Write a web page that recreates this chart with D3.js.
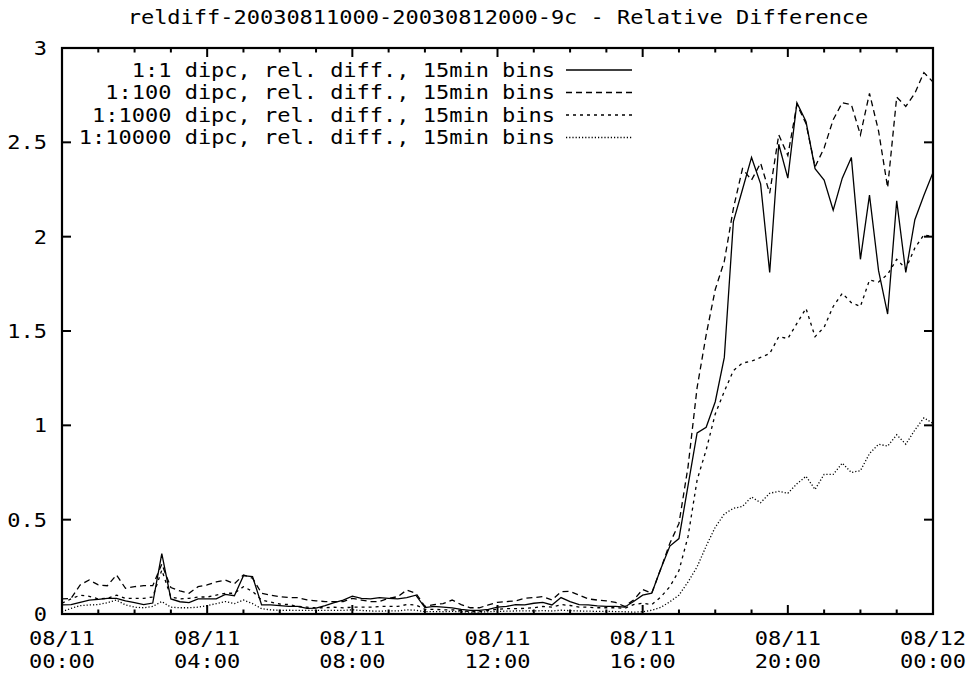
<!DOCTYPE html>
<html>
<head>
<meta charset="utf-8">
<script src="https://cdn.jsdelivr.net/npm/d3@7"></script>
<style>
  html, body { margin: 0; padding: 0; background: #fff; }
  svg text { font-family: "DejaVu Sans Mono", "Liberation Mono", monospace; fill: #000; }
</style>
</head>
<body>
<svg id="chart" width="969" height="675"></svg>
<script>
const title = "reldiff-20030811000-20030812000-9c - Relative Difference";
const seriesNames = [
  "1:1 dipc, rel. diff., 15min bins",
  "1:100 dipc, rel. diff., 15min bins",
  "1:1000 dipc, rel. diff., 15min bins",
  "1:10000 dipc, rel. diff., 15min bins"
];
// hours from 08/11 00:00, 15 min bins
const binHours = 0.25;
const xTickHours = [0, 4, 8, 12, 16, 20, 24];
const xTickLine1 = ["08/11", "08/11", "08/11", "08/11", "08/11", "08/11", "08/12"];
const xTickLine2 = ["00:00", "04:00", "08:00", "12:00", "16:00", "20:00", "00:00"];
const yTicks = [0, 0.5, 1, 1.5, 2, 2.5, 3];
const yTickLabels = ["0", "0.5", "1", "1.5", "2", "2.5", "3"];

const s1 = [0.048,0.05,0.062,0.074,0.078,0.083,0.083,0.07,0.06,0.05,
  0.058,0.32,0.08,0.065,0.06,0.08,0.08,0.08,0.104,0.097,
  0.203,0.198,0.048,0.048,0.044,0.04,0.04,0.03,0.031,0.044,
  0.06,0.074,0.095,0.083,0.08,0.087,0.083,0.08,0.087,0.1,
  0.034,0.04,0.036,0.033,0.025,0.019,0.019,0.025,0.036,0.04,
  0.05,0.048,0.057,0.062,0.048,0.087,0.066,0.05,0.048,0.043,
  0.04,0.04,0.036,0.066,0.1,0.11,0.24,0.36,0.40,0.68,
  0.96,0.99,1.125,1.36,2.08,2.25,2.42,2.28,1.81,2.49,
  2.31,2.71,2.61,2.36,2.30,2.14,2.31,2.42,1.88,2.22,
  1.82,1.59,2.19,1.81,2.09,2.22,2.34];
const s100 = [0.08,0.083,0.154,0.18,0.154,0.15,0.207,0.136,0.145,0.15,
  0.15,0.265,0.14,0.122,0.11,0.145,0.154,0.17,0.18,0.16,
  0.207,0.19,0.11,0.10,0.092,0.087,0.087,0.075,0.07,0.066,
  0.066,0.066,0.083,0.074,0.066,0.066,0.083,0.092,0.127,0.11,
  0.04,0.05,0.055,0.074,0.05,0.033,0.033,0.048,0.062,0.066,
  0.07,0.083,0.087,0.092,0.074,0.118,0.12,0.1,0.08,0.074,
  0.07,0.062,0.04,0.074,0.13,0.11,0.24,0.375,0.48,0.78,
  1.2,1.48,1.72,1.87,2.15,2.36,2.30,2.39,2.23,2.54,
  2.43,2.70,2.60,2.37,2.47,2.62,2.71,2.70,2.54,2.76,
  2.56,2.26,2.74,2.69,2.76,2.87,2.82];
const s1000 = [0.057,0.08,0.1,0.094,0.08,0.083,0.1,0.083,0.083,0.083,
  0.09,0.233,0.09,0.08,0.083,0.09,0.09,0.1,0.11,0.11,
  0.145,0.12,0.074,0.063,0.053,0.05,0.04,0.036,0.033,0.033,
  0.036,0.033,0.036,0.036,0.036,0.04,0.04,0.04,0.05,0.048,
  0.025,0.025,0.022,0.022,0.019,0.012,0.012,0.019,0.025,0.028,
  0.028,0.03,0.033,0.04,0.036,0.05,0.045,0.036,0.036,0.033,
  0.033,0.033,0.03,0.05,0.057,0.05,0.09,0.145,0.23,0.41,
  0.71,0.87,1.06,1.18,1.29,1.33,1.34,1.36,1.38,1.47,
  1.46,1.54,1.62,1.47,1.52,1.63,1.70,1.65,1.63,1.77,
  1.76,1.80,1.88,1.83,1.94,2.01,2.00];
const s10000 = [0.012,0.03,0.044,0.048,0.05,0.06,0.074,0.048,0.036,0.033,
  0.04,0.066,0.036,0.033,0.033,0.036,0.044,0.055,0.066,0.055,
  0.074,0.055,0.028,0.022,0.019,0.02,0.019,0.019,0.019,0.019,
  0.019,0.019,0.022,0.019,0.016,0.015,0.017,0.016,0.022,0.02,
  0.012,0.013,0.012,0.014,0.012,0.01,0.01,0.012,0.014,0.015,
  0.016,0.017,0.016,0.018,0.016,0.02,0.018,0.016,0.015,0.014,
  0.014,0.013,0.012,0.01,0.012,0.02,0.035,0.065,0.10,0.17,
  0.25,0.36,0.46,0.53,0.56,0.57,0.62,0.59,0.64,0.65,
  0.64,0.69,0.73,0.66,0.74,0.74,0.80,0.75,0.76,0.85,
  0.90,0.89,0.95,0.90,0.975,1.04,1.01];

const allSeries = [s1, s100, s1000, s10000];
const dashes = [null, "6,4", "3,4", "1.2,2"];

const svg = d3.select("#chart");
const pLeft = 62, pRight = 933, pTop = 48, pBottom = 614;

const x = d3.scaleLinear().domain([0, 24]).range([pLeft, pRight]);
const y = d3.scaleLinear().domain([0, 3]).range([pBottom, pTop]);

const FS = 19;
const SX = 1.157; // horizontal stretch so a glyph advance is ~13.2px, like the reference

function addText(tx, ty, str, anchor, dy) {
  return svg.append("text")
    .attr("transform", `translate(${tx},${ty}) scale(${SX},1)`)
    .attr("x", 0).attr("y", 0).attr("dy", dy || 0)
    .attr("text-anchor", anchor).style("font-size", FS + "px").text(str);
}

// title
addText(498, 24, title, "middle");

// data lines
const line = d3.line().x((d, i) => x(i * binHours)).y(d => y(d));
allSeries.forEach((s, k) => {
  const p = svg.append("path").datum(s).attr("d", line)
    .attr("fill", "none").attr("stroke", "#000").attr("stroke-width", 1.3)
    .attr("stroke-linejoin", "miter");
  if (dashes[k]) p.attr("stroke-dasharray", dashes[k]);
});

// ticks (inward, mirrored)
const tickG = svg.append("g").attr("stroke", "#000").attr("stroke-width", 2);
const minorHours = d3.range(0, 25, 1).filter(h => !xTickHours.includes(h));
xTickHours.forEach(h => {
  tickG.append("line").attr("x1", x(h)).attr("x2", x(h)).attr("y1", pBottom).attr("y2", pBottom - 9);
  tickG.append("line").attr("x1", x(h)).attr("x2", x(h)).attr("y1", pTop).attr("y2", pTop + 9);
});
minorHours.forEach(h => {
  tickG.append("line").attr("x1", x(h)).attr("x2", x(h)).attr("y1", pBottom).attr("y2", pBottom - 4.5);
  tickG.append("line").attr("x1", x(h)).attr("x2", x(h)).attr("y1", pTop).attr("y2", pTop + 4.5);
});
yTicks.forEach(v => {
  tickG.append("line").attr("x1", pLeft).attr("x2", pLeft + 9).attr("y1", y(v)).attr("y2", y(v));
  tickG.append("line").attr("x1", pRight).attr("x2", pRight - 9).attr("y1", y(v)).attr("y2", y(v));
});

// border
svg.append("rect").attr("x", pLeft).attr("y", pTop).attr("width", pRight - pLeft).attr("height", pBottom - pTop)
  .attr("fill", "none").attr("stroke", "#000").attr("stroke-width", 2.2);

// y labels
yTicks.forEach((v, i) => addText(47, y(v), yTickLabels[i], "end", "0.36em"));
// x labels
xTickHours.forEach((h, i) => {
  addText(x(h), 645, xTickLine1[i], "middle");
  addText(x(h), 668, xTickLine2[i], "middle");
});

// legend
seriesNames.forEach((name, k) => {
  const ly = 70 + k * 22.5;
  addText(555, ly, name, "end", "0.36em");
  const l = svg.append("line").attr("x1", 566).attr("x2", 632).attr("y1", ly).attr("y2", ly)
    .attr("stroke", "#000").attr("stroke-width", 1.3);
  if (dashes[k]) l.attr("stroke-dasharray", dashes[k]);
});
</script>
</body>
</html>
